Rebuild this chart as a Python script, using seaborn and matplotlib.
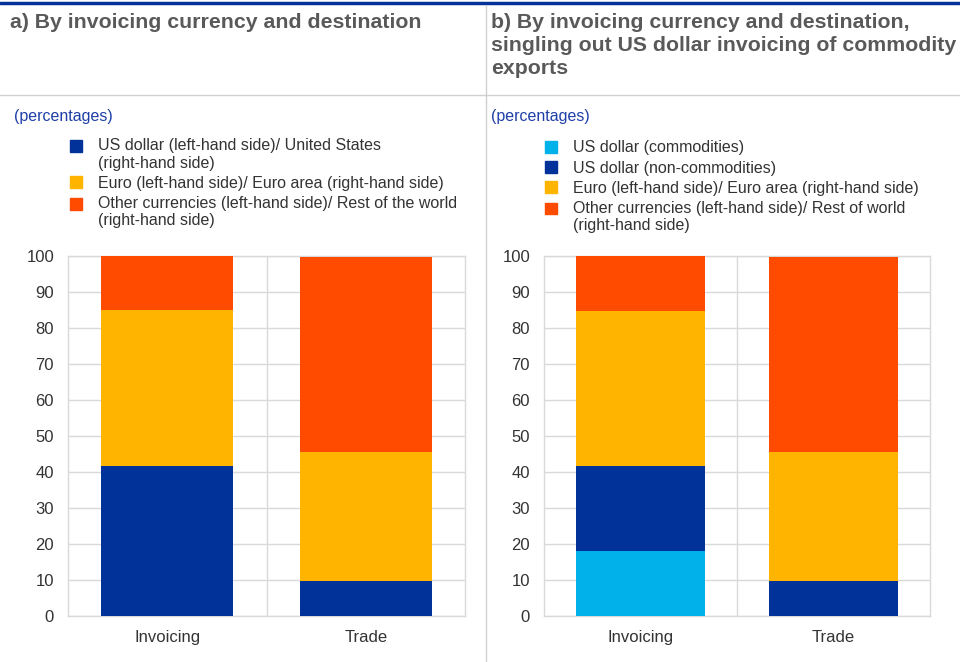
import numpy as np
import pandas as pd
import matplotlib
matplotlib.use("Agg")
import matplotlib.pyplot as plt
from matplotlib.patches import Patch, Rectangle
from matplotlib.lines import Line2D
from matplotlib.legend_handler import HandlerPatch
import seaborn as sns

# Data (percentages)
categories = ["Invoicing", "Trade"]
usd_a = [41.7, 9.7]
euro_a = [43.3, 35.9]
other_a = [15.0, 54.1]

usd_comm_b = [18.1, 0.0]
usd_noncomm_b = [23.6, 9.7]
euro_b = [43.0, 35.9]
other_b = [15.3, 54.1]

title_a = "a) By invoicing currency and destination"
title_b = "b) By invoicing currency and destination,\nsingling out US dollar invoicing of commodity\nexports"
labels_a = ["US dollar (left-hand side)/ United States\n(right-hand side)",
            "Euro (left-hand side)/ Euro area (right-hand side)",
            "Other currencies (left-hand side)/ Rest of the world\n(right-hand side)"]
labels_b = ["US dollar (commodities)",
            "US dollar (non-commodities)",
            "Euro (left-hand side)/ Euro area (right-hand side)",
            "Other currencies (left-hand side)/ Rest of world\n(right-hand side)"]

DARK_BLUE = "#003299"
LIGHT_BLUE = "#00B1EA"
YELLOW = "#FFB400"
RED = "#FF4B00"
GRID = "#d9d9d9"
TXT = "#333333"
LEG_FS = 11.5

sns.set_theme(style="white")
plt.rcParams["font.family"] = ["Liberation Sans", "DejaVu Sans"]

fig = plt.figure(figsize=(9.6, 6.62), dpi=100)


def stacked(ax, layers, colors):
    # draw cumulative totals, tallest first, so each layer sits on the one below
    cum = np.cumsum(np.array(layers), axis=0)
    for vals, col in zip(cum[::-1], colors[::-1]):
        df = pd.DataFrame({"cat": categories, "val": vals})
        sns.barplot(data=df, x="cat", y="val", color=col, width=0.665,
                    saturation=1, ax=ax, linewidth=0, zorder=3)
    ax.set_xlim(-0.5, 1.5)
    ax.set_ylim(0, 100)
    ax.set_yticks(range(0, 101, 10))
    ax.set_xlabel("")
    ax.set_ylabel("")
    ax.yaxis.grid(True, color=GRID, linewidth=1, zorder=0)
    ax.axvline(0.5, color=GRID, linewidth=1, zorder=0)
    for s in ax.spines.values():
        s.set_color(GRID)
        s.set_linewidth(1)
    ax.tick_params(axis="y", labelsize=12, colors=TXT, length=0, pad=10)
    ax.tick_params(axis="x", labelsize=12, colors=TXT, length=0, pad=10)
    ax.set_axisbelow(True)


ax1 = fig.add_axes([68 / 960, 46 / 662, 397 / 960, 360 / 662])
stacked(ax1, [usd_a, euro_a, other_a], [DARK_BLUE, YELLOW, RED])

ax2 = fig.add_axes([544 / 960, 46 / 662, 386 / 960, 360 / 662])
stacked(ax2, [usd_comm_b, usd_noncomm_b, euro_b, other_b],
        [LIGHT_BLUE, DARK_BLUE, YELLOW, RED])

# frame lines
fig.add_artist(Line2D([0, 1], [1 - 3 / 662, 1 - 3 / 662], color=DARK_BLUE, linewidth=2.5))
fig.add_artist(Line2D([0, 1], [1 - 95 / 662, 1 - 95 / 662], color="#d0d0d0", linewidth=1))
fig.add_artist(Line2D([486 / 960, 486 / 960], [0, 1 - 5 / 662], color="#d0d0d0", linewidth=1))

# titles
fig.text(10 / 960, 1 - 13 / 662, title_a, ha="left", va="top", fontsize=15.3,
         fontweight="bold", color="#595959")
fig.text(491 / 960, 1 - 13 / 662, title_b, ha="left", va="top", fontsize=15.3,
         fontweight="bold", color="#595959", linespacing=1.27)
fig.text(14 / 960, 1 - 109 / 662, "(percentages)", ha="left", va="top", fontsize=11.5,
         color="#1f3fa8")
fig.text(491 / 960, 1 - 109 / 662, "(percentages)", ha="left", va="top", fontsize=11.5,
         color="#1f3fa8")


# square marker next to the first line of a two-line label
def top_square(legend, orig_handle, xdescent, ydescent, width, height, fontsize):
    return Rectangle((-xdescent, -ydescent + 0.55 * fontsize), width, height)


def make_legend(colors, labels, anchor):
    handles = [Patch(color=c) for c in colors]
    hmap = {h: HandlerPatch(patch_func=top_square)
            for h, lab in zip(handles, labels) if "\n" in lab}
    fig.legend(handles, labels, loc="upper left", bbox_to_anchor=anchor,
               frameon=False, fontsize=LEG_FS, handlelength=0.75, handleheight=0.75,
               handletextpad=0.95, labelspacing=0.32, labelcolor=TXT, borderaxespad=0,
               handler_map=hmap)


make_legend([DARK_BLUE, YELLOW, RED], labels_a, (64 / 960, 1 - 132 / 662))
make_legend([LIGHT_BLUE, DARK_BLUE, YELLOW, RED], labels_b, (539 / 960, 1 - 134 / 662))

fig.savefig("out.png", dpi=100)
